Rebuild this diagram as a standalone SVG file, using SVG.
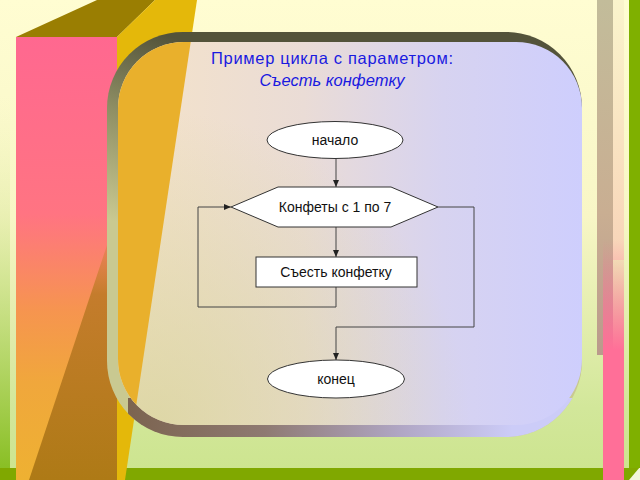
<svg xmlns="http://www.w3.org/2000/svg" width="640" height="480" viewBox="0 0 640 480">
<defs>
<style>
.lbl{font-family:"Liberation Sans",Arial,sans-serif;font-size:14px;fill:#111;text-anchor:middle}
.ttl{font-family:"Liberation Sans",Arial,sans-serif;font-size:16.5px;fill:#1A1AE0;text-anchor:middle}
.shp{fill:#fff;stroke:#333;stroke-width:1}
.con{fill:none;stroke:#444;stroke-width:1}
</style>
<marker id="arr" markerWidth="7" markerHeight="7" refX="7" refY="3.5" orient="auto" markerUnits="userSpaceOnUse"><path d="M0,0.5 L7,3.5 L0,6.5 z" fill="#222"/></marker>
<linearGradient id="bg" x1="0" y1="0" x2="0" y2="1"><stop offset="0" stop-color="#FFFDD2"/><stop offset="0.45" stop-color="#F8F6C6"/><stop offset="0.85" stop-color="#D2E79A"/><stop offset="1" stop-color="#CCE48E"/></linearGradient>
<linearGradient id="lg" x1="0" y1="0" x2="0" y2="1"><stop offset="0.2" stop-color="#E8F2B8" stop-opacity="0"/><stop offset="1" stop-color="#84BC1C"/></linearGradient>
<linearGradient id="pink" gradientUnits="userSpaceOnUse" x1="0" y1="37" x2="0" y2="480"><stop offset="0" stop-color="#FF6890"/><stop offset="0.4" stop-color="#FF7482"/><stop offset="0.62" stop-color="#F6954F"/><stop offset="0.78" stop-color="#F0A73C"/><stop offset="1" stop-color="#EEB132"/></linearGradient>
<linearGradient id="brown" gradientUnits="userSpaceOnUse" x1="0" y1="215" x2="0" y2="480"><stop offset="0" stop-color="#D88040" stop-opacity="0"/><stop offset="0.3" stop-color="#C47C2C"/><stop offset="1" stop-color="#AE7A16"/></linearGradient>
<linearGradient id="bevel" gradientUnits="userSpaceOnUse" x1="175" y1="38" x2="110" y2="220"><stop offset="0" stop-color="#53533A"/><stop offset="0.45" stop-color="#8E8E64"/><stop offset="1" stop-color="#C9C991"/></linearGradient>
<linearGradient id="shadow" gradientUnits="userSpaceOnUse" x1="130" y1="0" x2="580" y2="0"><stop offset="0" stop-color="#7C6450"/><stop offset="0.3" stop-color="#8E7A72"/><stop offset="0.6" stop-color="#B0A6C4"/><stop offset="0.85" stop-color="#CCCCF8"/></linearGradient>
<linearGradient id="panel" gradientUnits="userSpaceOnUse" x1="118" y1="0" x2="582" y2="0"><stop offset="0" stop-color="#F5E3C8"/><stop offset="0.4" stop-color="#EADCD6"/><stop offset="0.7" stop-color="#D7D3F0"/><stop offset="1" stop-color="#CECEFD"/></linearGradient>
<radialGradient id="glow" gradientUnits="userSpaceOnUse" cx="150" cy="430" r="320"><stop offset="0" stop-color="#D8D49C" stop-opacity="0.8"/><stop offset="1" stop-color="#D8D49C" stop-opacity="0"/></radialGradient>
<linearGradient id="gray" x1="0" y1="0" x2="0" y2="1"><stop offset="0" stop-color="#C2BC9A"/><stop offset="0.6" stop-color="#C9AE92"/><stop offset="1" stop-color="#BA9A8C"/></linearGradient>
<linearGradient id="pale" x1="0" y1="0" x2="0" y2="1"><stop offset="0" stop-color="#FAF4CC"/><stop offset="1" stop-color="#F8D4B8"/></linearGradient>
<linearGradient id="pstripe" gradientUnits="userSpaceOnUse" x1="0" y1="240" x2="0" y2="350"><stop offset="0" stop-color="#FF6F98" stop-opacity="0"/><stop offset="1" stop-color="#FF6F98"/></linearGradient>
<clipPath id="pclip"><rect x="118" y="42" width="464" height="383" rx="66"/></clipPath>
<clipPath id="bclip"><rect x="128" y="398" width="470" height="50"/></clipPath>
</defs>

<rect width="640" height="480" fill="url(#bg)"/>
<rect x="0" y="0" width="10" height="480" fill="url(#lg)"/>
<rect x="0" y="468" width="640" height="12" fill="#80A800"/>
<polygon points="640,467 640,480 629,480" fill="#F2F6DC"/>
<rect x="597" y="0" width="16" height="355" fill="url(#gray)"/>
<rect x="613" y="0" width="11" height="260" fill="url(#pale)"/>
<rect x="603" y="240" width="21" height="240" fill="url(#pstripe)"/>
<rect x="629" y="0" width="11" height="468" fill="#7FB000"/>

<rect x="16" y="37" width="101" height="443" fill="url(#pink)"/>
<polygon points="117,215 117,480 29,480" fill="url(#brown)"/>
<polygon points="16,37 117,37 155,0 97,0" fill="#9A7E02"/>
<polygon points="117,37 155,0 197,0 125,480 117,480" fill="#E4B80A"/>

<rect x="107" y="32" width="475" height="405" rx="76" fill="url(#bevel)"/>
<rect x="107" y="32" width="475" height="405" rx="76" fill="url(#shadow)" clip-path="url(#bclip)"/>
<rect x="118" y="42" width="464" height="383" rx="66" fill="url(#panel)"/>
<rect x="118" y="42" width="464" height="383" rx="66" fill="url(#glow)"/>
<polygon points="117,0 197,0 125,480 117,480" fill="#E9B02C" clip-path="url(#pclip)"/>

<g id="title">
<text class="ttl" x="332" y="64" textLength="242" lengthAdjust="spacing">Пример цикла с параметром:</text>
<text class="ttl" x="332" y="86" font-style="italic">Съесть конфетку</text>
</g>

<g id="connectors">
<path class="con" d="M336,158 V187" marker-end="url(#arr)"/>
<path class="con" d="M336,227 V257" marker-end="url(#arr)"/>
<path class="con" d="M336,287 V307 H198 V207 H231" marker-end="url(#arr)"/>
<path class="con" d="M438,207 H474 V327 H336 V360" marker-end="url(#arr)"/>
</g>

<g id="n-start">
<ellipse class="shp" cx="335" cy="140" rx="68" ry="18.5"/>
<text class="lbl" x="335" y="145">начало</text>
</g>
<g id="n-loop">
<polygon class="shp" points="231,207 278,187 391,187 438,207 391,227 278,227"/>
<text class="lbl" x="335" y="212">Конфеты с 1 по 7</text>
</g>
<g id="n-body">
<rect class="shp" x="256" y="257" width="161" height="30"/>
<text class="lbl" x="336" y="277">Съесть конфетку</text>
</g>
<g id="n-end">
<ellipse class="shp" cx="336" cy="379" rx="68.5" ry="19"/>
<text class="lbl" x="336" y="384">конец</text>
</g>
</svg>
